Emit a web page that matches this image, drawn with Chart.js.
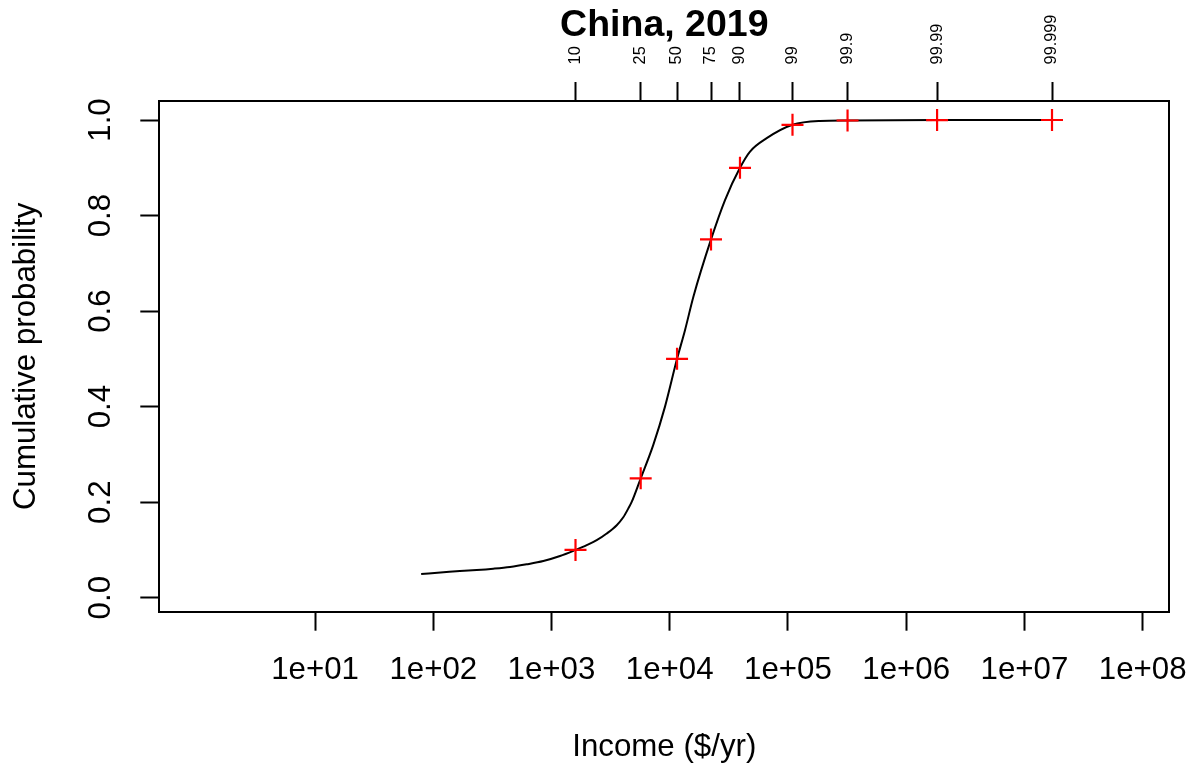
<!DOCTYPE html>
<html>
<head>
<meta charset="utf-8">
<title>China, 2019</title>
<script src="https://cdn.jsdelivr.net/npm/chart.js@4/dist/chart.umd.min.js"></script>
<style>
  html, body { margin: 0; padding: 0; background: #ffffff; }
  canvas { display: block; }
</style>
</head>
<body>
<canvas id="cdf" width="1194" height="767"></canvas>
<script>
// Income ($/yr) at selected percentiles of the distribution
const percentiles = [10, 25, 50, 75, 90, 99, 99.9, 99.99, 99.999];
const percentileIncome = [1596, 5680, 11530, 22340, 39270, 109200, 319000, 1824000, 17100000];
const percentileProb = [0.1, 0.25, 0.5, 0.75, 0.9, 0.99, 0.999, 0.9999, 0.99999];

// Fitted cumulative distribution curve
const curveIncome = [79, 122, 168, 233, 322, 446, 617, 853, 1180, 1596, 1987, 2412, 2931, 3562,
                     4046, 4467, 4768, 5685, 7260, 9120, 11530, 13460, 15850, 22340, 29400, 39270,
                     47760, 66100, 109200, 186600, 319000, 1824000, 17100000];
const curveProb = [0.0496, 0.0532, 0.0559, 0.0580, 0.0607, 0.0643, 0.0699, 0.0768, 0.0873, 0.100,
                   0.110, 0.1203, 0.1343, 0.1517, 0.1683, 0.187, 0.2005, 0.250, 0.320, 0.400,
                   0.500, 0.560, 0.630, 0.750, 0.833, 0.900, 0.934, 0.962, 0.990, 0.998, 0.999,
                   0.9999, 0.99999];

// Axis tick values
const incomeTicks = [1e1, 1e2, 1e3, 1e4, 1e5, 1e6, 1e7, 1e8];
const probTicks = [0, 0.2, 0.4, 0.6, 0.8, 1.0];

const FONT = '"Liberation Sans", Arial, Helvetica, sans-serif';
const AXIS_PX = 31.25;
Chart.defaults.color = '#000000';
Chart.defaults.font.family = FONT;

const X_MIN = Math.pow(10, -0.317), X_MAX = Math.pow(10, 8.225);
const Y_MIN = -0.0293, Y_MAX = 1.0398;

function sciLabel(v) {
  const e = Math.round(Math.log10(v));
  return '1e' + (e < 0 ? '-' : '+') + String(Math.abs(e)).padStart(2, '0');
}

// Fixed axis band sizes so the plot box sits where the layout wants it
function fixHeight(h) {
  return s => { s.height = h; s.paddingLeft = 0; s.paddingRight = 0; s.paddingTop = 0; s.paddingBottom = 0; };
}
function fixWidth(w) {
  return s => { s.width = w; s.paddingLeft = 0; s.paddingRight = 0; s.paddingTop = 0; s.paddingBottom = 0; };
}

const axisGrid = { display: true, drawOnChartArea: false, drawTicks: true,
                   tickLength: 19, tickWidth: 2, tickColor: '#000000', color: '#000000' };
const axisBorder = { display: true, color: '#000000', width: 2 };

new Chart(document.getElementById('cdf'), {
  type: 'scatter',
  data: {
    datasets: [
      {
        label: 'Percentiles',
        data: percentileIncome.map((v, i) => ({ x: v, y: percentileProb[i] })),
        pointStyle: 'cross',
        pointRadius: 11,
        pointBorderWidth: 2.2,
        borderColor: '#ff0000',
        backgroundColor: '#ff0000',
        showLine: false,
        order: 0
      },
      {
        label: 'CDF',
        data: curveIncome.map((v, i) => ({ x: v, y: curveProb[i] })),
        showLine: true,
        borderColor: '#000000',
        borderWidth: 2,
        pointRadius: 0,
        cubicInterpolationMode: 'monotone',
        fill: false,
        order: 1
      }
    ]
  },
  options: {
    responsive: false,
    animation: false,
    devicePixelRatio: 1,
    layout: { padding: { left: 0, right: 24.7, top: 0, bottom: 0 } },
    plugins: {
      legend: { display: false },
      tooltip: { enabled: false },
      title: { display: false }
    },
    scales: {
      x: {
        type: 'logarithmic',
        position: 'bottom',
        min: X_MIN, max: X_MAX,
        bounds: 'data',
        afterBuildTicks: s => { s.ticks = incomeTicks.map(v => ({ value: v })); },
        afterFit: fixHeight(767 - 611.7),
        grid: axisGrid,
        border: axisBorder,
        ticks: {
          autoSkip: false, maxRotation: 0, minRotation: 0, padding: 21,
          font: { size: AXIS_PX },
          callback: v => sciLabel(v)
        },
        title: { display: true, text: 'Income ($/yr)', font: { size: AXIS_PX }, padding: { top: 0, bottom: 0.5 } }
      },
      x2: {
        type: 'logarithmic',
        position: 'top',
        min: X_MIN, max: X_MAX,
        bounds: 'data',
        afterBuildTicks: s => { s.ticks = percentileIncome.map(v => ({ value: v })); },
        afterFit: fixHeight(101),
        grid: axisGrid,
        border: axisBorder,
        ticks: {
          autoSkip: false, maxRotation: 90, minRotation: 90, padding: 17.6,
          labelOffset: 19.5,
          font: { size: 16.3 },
          callback: (v, i) => String(percentiles[i])
        },
        title: {
          display: true, text: 'China, 2019',
          font: { size: 37.5, weight: 'bold', lineHeight: 1.2 },
          padding: { top: 3.5, bottom: 0 }
        }
      },
      y: {
        type: 'linear',
        position: 'left',
        min: Y_MIN, max: Y_MAX,
        bounds: 'data',
        afterBuildTicks: s => { s.ticks = probTicks.map(v => ({ value: v })); },
        afterFit: fixWidth(159.3),
        grid: axisGrid,
        border: axisBorder,
        ticks: {
          minRotation: 90, maxRotation: 90, crossAlign: 'center', padding: 17.5,
          font: { size: AXIS_PX },
          callback: v => v.toFixed(1)
        },
        title: { display: true, text: 'Cumulative probability', font: { size: AXIS_PX }, padding: { top: 8, bottom: 0 } }
      },
      y2: {
        type: 'linear',
        position: 'right',
        min: Y_MIN, max: Y_MAX,
        afterFit: fixWidth(0),
        grid: { display: true, drawOnChartArea: false, drawTicks: false, color: '#000000' },
        border: axisBorder,
        ticks: { display: false }
      }
    }
  }
});
</script>
</body>
</html>
